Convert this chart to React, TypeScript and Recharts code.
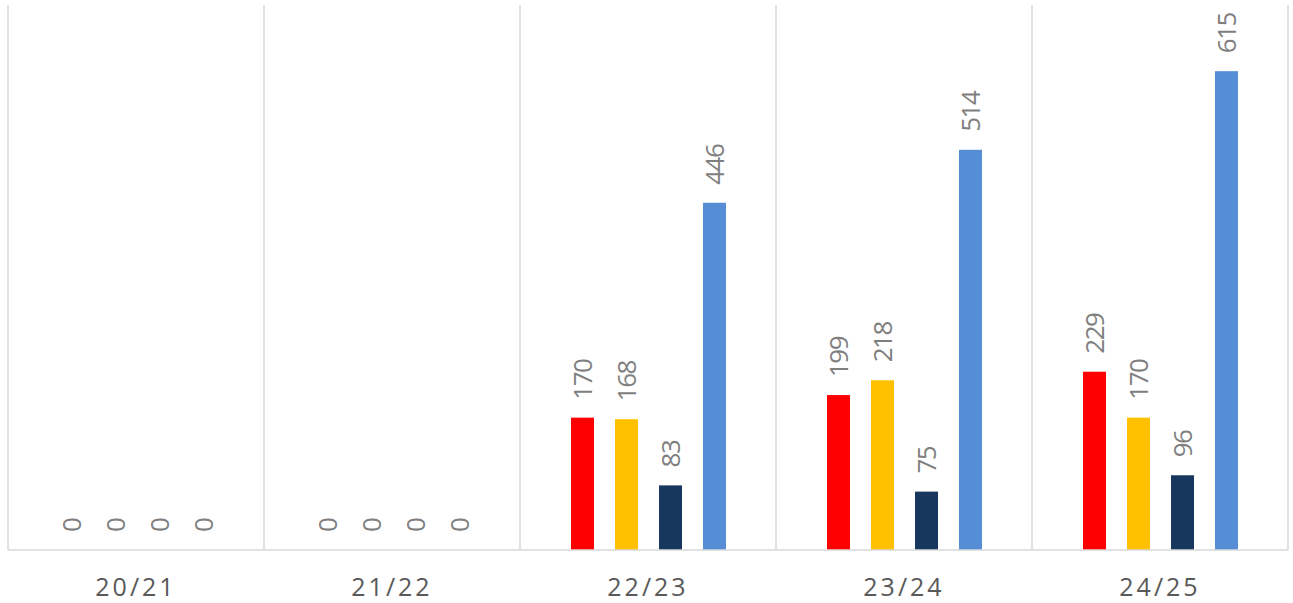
import React from "react";
import { BarChart, Bar, XAxis, YAxis, CartesianGrid } from "recharts";

const seasons = ["20/21", "21/22", "22/23", "23/24", "24/25"];
const redValues = [0, 0, 170, 199, 229];
const yellowValues = [0, 0, 168, 218, 170];
const navyValues = [0, 0, 83, 75, 96];
const blueValues = [0, 0, 446, 514, 615];

const seriesKeys = ["red", "yellow", "navy", "blue"];
const seriesColors = ["#ff0000", "#ffc000", "#17375e", "#558ed5"];

const chartData = seasons.map((season, i) => ({
  season,
  red: redValues[i],
  yellow: yellowValues[i],
  navy: navyValues[i],
  blue: blueValues[i],
}));

// bar plus its vertical value label (drawn in the shape so zero bars get a label too)
const BarWithLabel = (props: any) => {
  const { x, y, width, height, fill, value } = props;
  const v = Array.isArray(value) ? value[1] - value[0] : value;
  const cx = Number(x) + Number(width) / 2;
  const cy = Number(y) - 18;
  return (
    <g>
      {height > 0 && <rect x={x} y={y} width={width} height={height} fill={fill} />}
      <text
        x={cx}
        y={cy}
        transform={`rotate(-90, ${cx}, ${cy})`}
        textAnchor="start"
        dominantBaseline="central"
        fill="#7f7f7f"
        fontSize={26}
        letterSpacing={-1.5}
        fontFamily="'Open Sans', sans-serif"
      >
        {v}
      </text>
    </g>
  );
};

export default function App() {
  return (
    <div style={{ position: "absolute", left: 0, top: 0, background: "#fff" }}>
      <BarChart
        width={1293}
        height={603}
        data={chartData}
        margin={{ top: 5, right: 5, bottom: 0, left: 8 }}
        barSize={23}
        barGap={21}
      >
        <CartesianGrid
          horizontal={false}
          stroke="#d9d9d9"
          strokeWidth={1.5}
          verticalCoordinatesGenerator={({ offset }: any) =>
            seasons.map((_, i) => offset.left + (i * offset.width) / seasons.length).concat([offset.left + offset.width])
          }
        />
        <XAxis
          dataKey="season"
          height={53}
          axisLine={{ stroke: "#d9d9d9", strokeWidth: 1.5 }}
          tickLine={false}
          tickMargin={22}
          tick={{ fill: "#595959", fontSize: 25, letterSpacing: 3, fontFamily: "'Open Sans', sans-serif" }}
        />
        <YAxis hide domain={[0, 700]} />
        {seriesKeys.map((key, i) => (
          <Bar key={key} dataKey={key} fill={seriesColors[i]} isAnimationActive={false} shape={BarWithLabel} />
        ))}
      </BarChart>
    </div>
  );
}
